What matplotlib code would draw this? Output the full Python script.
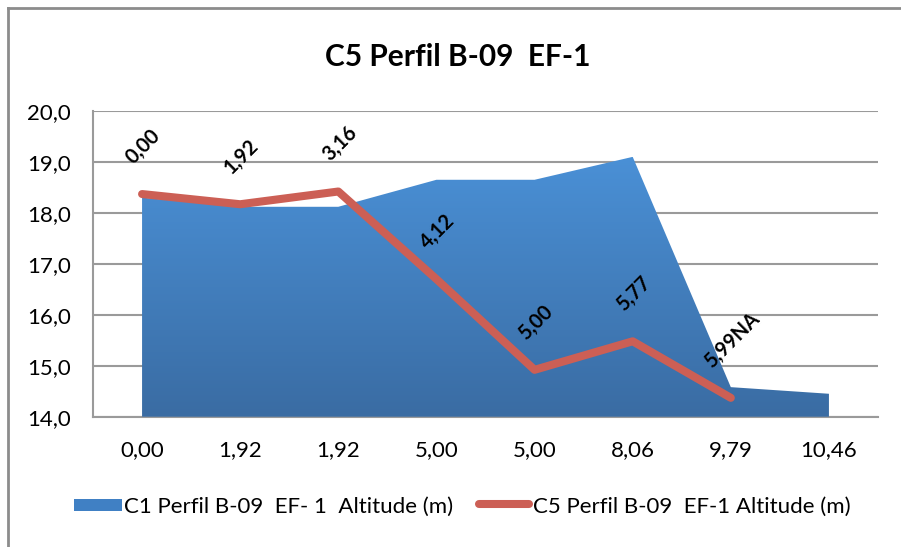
import matplotlib
matplotlib.use("Agg")
import matplotlib.pyplot as plt
import numpy as np
from matplotlib.colors import LinearSegmentedColormap
from matplotlib.patches import Polygon, Rectangle
from matplotlib.lines import Line2D

plt.rcParams['font.family'] = ['Lato', 'DejaVu Sans']

categories = ["0,00", "1,92", "1,92", "5,00", "5,00", "8,06", "9,79", "10,46"]
area_values = [18.30, 18.12, 18.12, 18.65, 18.65, 19.10, 14.58, 14.45]
line_values = [18.37, 18.17, 18.42, 16.70, 14.92, 15.48, 14.37]
line_labels = ["0,00", "1,92", "3,16", "4,12", "5,00", "5,77", "5,99NA"]
yticks = [14, 15, 16, 17, 18, 19, 20]
ytick_labels = ["14,0", "15,0", "16,0", "17,0", "18,0", "19,0", "20,0"]

area_name = "C1 Perfil B-09  EF- 1  Altitude (m)"
line_name = "C5 Perfil B-09  EF-1 Altitude (m)"
title = "C5 Perfil B-09  EF-1"

W, H = 901, 547
fig = plt.figure(figsize=(W/100, H/100), dpi=100)
ax = fig.add_axes([93/W, 1-416.7/H, (878-93)/W, (416.7-111)/H])

x = np.arange(len(categories))
ymin, ymax = 14, 20
ax.set_xlim(-0.5, len(categories)-0.5)
ax.set_ylim(ymin, ymax)

# gradient area
cmap = LinearSegmentedColormap.from_list("bl", ["#3a6ca3", "#4a90d6"])
grad = np.linspace(0, 1, 256).reshape(-1, 1)
img = ax.imshow(grad, extent=[x[0], x[-1], ymin, max(area_values)], origin='lower',
                cmap=cmap, aspect='auto', zorder=2)
verts = [(x[0], ymin)] + list(zip(x, area_values)) + [(x[-1], ymin)]
poly = Polygon(verts, closed=True, facecolor='none', edgecolor='none',
               transform=ax.transData)
ax.add_patch(poly)
img.set_clip_path(poly)

xl = np.arange(len(line_values))
ax.plot(xl, line_values, color='#cc5f55', lw=5.8, solid_joinstyle='round',
        solid_capstyle='round', zorder=4)
for xi, yi, lab in zip(xl, line_values, line_labels):
    ax.annotate(lab, (xi, yi), xytext=(1, 19), textcoords='offset points',
                rotation=45, ha='center', va='bottom', fontsize=14.5,
                fontweight='bold', color='black', zorder=5)

ax.set_yticks(yticks)
ax.set_yticklabels(ytick_labels, fontsize=16)
ax.set_xticks(x)
ax.set_xticklabels(categories, fontsize=16)
ax.tick_params(axis='both', length=0, colors='black')
ax.tick_params(axis='y', pad=16)
ax.tick_params(axis='x', pad=17)
ax.grid(axis='y', color='#9a9a9a', lw=1.5, zorder=1)
ax.set_axisbelow(True)
for s in ['top', 'right']:
    ax.spines[s].set_visible(False)
for s in ['left', 'bottom']:
    ax.spines[s].set_color('#9a9a9a')
    ax.spines[s].set_linewidth(1.5)
    ax.spines[s].set_zorder(1)

fig.text(458/W, 1-57/H, title, ha='center', va='center', fontsize=21.5,
         fontweight='bold')

# legend (manual, figure coords)
ly = 1-507/H
fig.patches.append(Rectangle((74/W, 1-511/H), 48/W, 12/H, transform=fig.transFigure,
                             facecolor='#4080c4', edgecolor='none'))
fig.text(124/W, ly, area_name, ha='left', va='center', fontsize=16)
fig.lines.append(Line2D([479/W, 529/W], [1-504/H, 1-504/H], transform=fig.transFigure,
                        color='#cc5f55', lw=5.8, solid_capstyle='round'))
fig.text(533/W, ly, line_name, ha='left', va='center', fontsize=16)

# chart frame
fig.lines.append(Line2D([8/W, 1], [1-8/H, 1-8/H], transform=fig.transFigure,
                        color='#8c8c8c', lw=2))
fig.lines.append(Line2D([8/W, 8/W], [0, 1-8/H], transform=fig.transFigure,
                        color='#8c8c8c', lw=2))

fig.savefig("out.png", dpi=100)
